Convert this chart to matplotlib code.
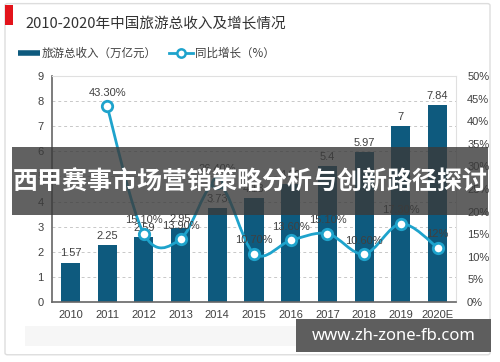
import matplotlib
matplotlib.use("Agg")
import matplotlib.pyplot as plt
import numpy as np
from matplotlib.path import Path
from matplotlib.patches import PathPatch, Rectangle, FancyBboxPatch
from matplotlib.lines import Line2D

plt.rcParams["font.family"] = ["Liberation Sans", "Noto Sans CJK SC", "DejaVu Sans"]

years = ['2010', '2011', '2012', '2013', '2014', '2015', '2016', '2017', '2018', '2019', '2020E']
revenue = [1.57, 2.25, 2.59, 2.95, 3.73, 4.13, 4.69, 5.4, 5.97, 7, 7.84]
growth = [None, 43.3, 15.1, 13.9, 26.4, 10.7, 13.6, 15.1, 10.6, 17.3, 12]
growth_labels = ['', '43.30%', '15.10%', '13.90%', '26.40%', '10.70%', '13.60%',
                 '15.10%', '10.60%', '17.30%', '12%']

bar_color = '#0e5a7e'
line_color = '#1ea3cc'
text_color = '#404040'

fig = plt.figure(figsize=(5, 3.62), dpi=100)
fig.patch.set_facecolor('white')

# card border
fig.patches.append(FancyBboxPatch((0.01, 0.02), 0.97, 0.97, boxstyle="round,pad=0,rounding_size=0.005",
                                  transform=fig.transFigure, fc='white', ec='#dddddd', lw=1, zorder=-5))
# faint band under x labels
fig.patches.append(Rectangle((0.05, 0.045), 0.86, 0.055, transform=fig.transFigure,
                             fc='#f6f6f6', ec='none', zorder=-4))

ax = fig.add_axes([0.104, 0.166, 0.808, 0.624])
x = np.arange(len(years))
ax.bar(x, revenue, width=0.52, color=bar_color, zorder=2)
for xi, v in zip(x, revenue):
    ax.annotate(f'{v:g}', (xi, v), xytext=(0, 3), textcoords='offset points',
                ha='center', va='bottom', fontsize=8, color=text_color, zorder=4)

ax.set_xlim(-0.5, len(years) - 0.5)
ax.set_ylim(0, 9)
ax.set_yticks(range(10))
ax.set_xticks(x, years)
ax.tick_params(axis='both', length=0, labelsize=8, colors=text_color, pad=6)
ax.grid(axis='y', color='#c8c8c8', linestyle=(0, (3, 3)), linewidth=0.7, zorder=0)
ax.set_axisbelow(True)
for s in ['top', 'right']:
    ax.spines[s].set_color('#e0e0e0')
    ax.spines[s].set_linewidth(0.8)
for s in ['left', 'bottom']:
    ax.spines[s].set_color('#666666')
    ax.spines[s].set_linewidth(1.2)

ax2 = ax.twinx()
ax2.set_ylim(0, 50)
ax2.set_yticks(range(0, 51, 5), [f'{v}%' for v in range(0, 51, 5)])
ax2.tick_params(axis='y', length=0, labelsize=8, colors=text_color, pad=8)
for s in ax2.spines.values():
    s.set_visible(False)

# smoothed growth line (Catmull-Rom through the points)
gx = [xi for xi, g in zip(x, growth) if g is not None]
gy = [g for g in growth if g is not None]
pts = np.column_stack([gx, gy]).astype(float)
n = len(pts)
verts = [pts[0]]
codes = [Path.MOVETO]
for i in range(n - 1):
    p0 = pts[max(i - 1, 0)]
    p1 = pts[i]
    p2 = pts[i + 1]
    p3 = pts[min(i + 2, n - 1)]
    verts += [p1 + (p2 - p0) / 6, p2 - (p3 - p1) / 6, p2]
    codes += [Path.CURVE4] * 3
ax2.add_patch(PathPatch(Path(verts, codes), fc='none', ec=line_color, lw=2, zorder=3))
ax2.plot(gx, gy, 'o', ms=7.5, mfc='white', mec=line_color, mew=2, zorder=4)
for xi, g, lab in zip(x, growth, growth_labels):
    if g is None:
        continue
    ax2.annotate(lab, (xi, g), xytext=(0, 6), textcoords='offset points',
                 ha='center', va='bottom', fontsize=8, color=text_color, zorder=5)

# title
fig.patches.append(Rectangle((0.010, 0.931), 0.016, 0.055, transform=fig.transFigure,
                             fc='#e3141b', ec='none'))
fig.text(0.05, 0.935, '2010-2020年中国旅游总收入及增长情况', fontsize=10.5,
         family=['Noto Sans CJK SC', 'DejaVu Sans'], color='#333333', va='center', ha='left')

# legend
fig.add_artist(Line2D([0.036, 0.08], [0.853, 0.853], transform=fig.transFigure,
                      color=bar_color, lw=4, solid_capstyle='butt'))
fig.text(0.084, 0.853, '旅游总收入（万亿元）', fontsize=8.3, color=text_color,
         family=['Noto Sans CJK SC', 'DejaVu Sans'], va='center')
fig.add_artist(Line2D([0.338, 0.386], [0.853, 0.853], transform=fig.transFigure,
                      color=line_color, lw=2))
fig.add_artist(Line2D([0.362], [0.853], transform=fig.transFigure, marker='o', ms=6,
                      mfc='white', mec=line_color, mew=1.8, ls='none'))
fig.text(0.39, 0.853, '同比增长（%）', fontsize=8.3, color=text_color,
         family=['Noto Sans CJK SC', 'DejaVu Sans'], va='center')

# overlay band
fig.patches.append(Rectangle((0.024, 0.406), 0.952, 0.188, transform=fig.transFigure,
                             fc='#3a3a3a', ec='none', alpha=0.8, zorder=10))
fig.text(0.5, 0.497, '西甲赛事市场营销策略分析与创新路径探讨', fontsize=18, fontweight='bold',
         family=['Noto Sans CJK SC', 'DejaVu Sans'], color='white', ha='center', va='center', zorder=11)

# watermark
fig.patches.append(Rectangle((0.592, 0.028), 0.39, 0.091, transform=fig.transFigure,
                             fc='#5e5e5e', ec='none', zorder=10))
fig.text(0.787, 0.073, 'www.zh-zone-fb.com', fontsize=12, fontweight='bold',
         family=['Noto Sans', 'DejaVu Sans'], color='white', ha='center', va='center', zorder=11)

fig.savefig('out.png', dpi=100)
